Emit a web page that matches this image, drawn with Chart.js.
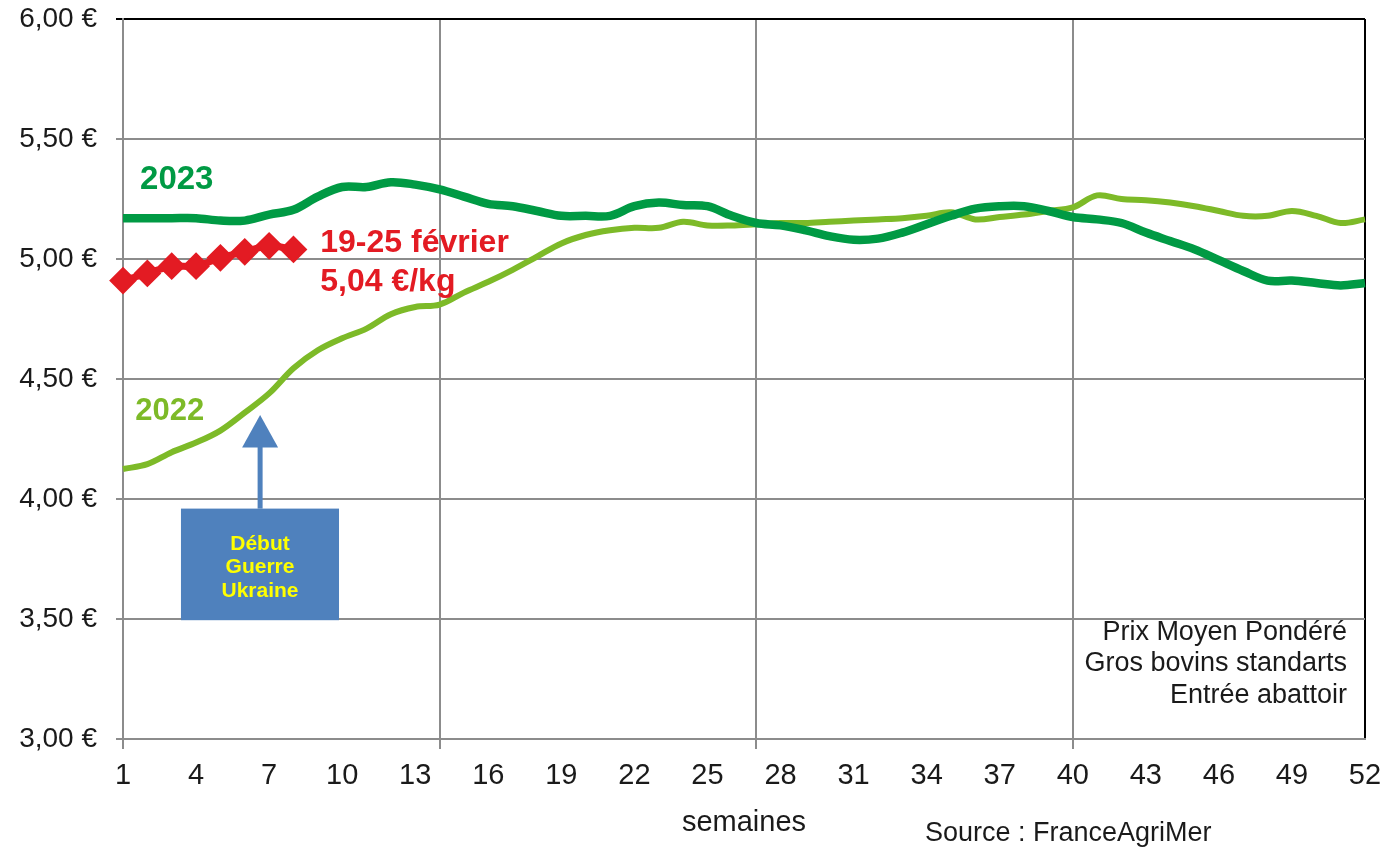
<!DOCTYPE html>
<html>
<head>
<meta charset="utf-8">
<script src="https://cdn.jsdelivr.net/npm/chart.js@4.4.0/dist/chart.umd.min.js"></script>
<style>
  html, body { margin: 0; padding: 0; background: #fff; }
</style>
</head>
<body>
<canvas id="prixChart" width="1384" height="849"></canvas>
<script>
const weeks = [1, 2, 3, 4, 5, 6, 7, 8, 9, 10, 11, 12, 13, 14, 15, 16, 17, 18, 19, 20,
  21, 22, 23, 24, 25, 26, 27, 28, 29, 30, 31, 32, 33, 34, 35, 36, 37, 38, 39, 40,
  41, 42, 43, 44, 45, 46, 47, 48, 49, 50, 51, 52];

const prix2022 = [4.125, 4.145, 4.195, 4.235, 4.285, 4.36, 4.44, 4.545, 4.62, 4.67,
  4.71, 4.77, 4.80, 4.81, 4.86, 4.905, 4.955, 5.01, 5.065, 5.10,
  5.12, 5.13, 5.13, 5.155, 5.14, 5.14, 5.145, 5.15, 5.15, 5.155,
  5.16, 5.165, 5.17, 5.18, 5.195, 5.165, 5.175, 5.185, 5.20, 5.215,
  5.265, 5.25, 5.245, 5.235, 5.22, 5.20, 5.18, 5.18, 5.20, 5.18,
  5.15, 5.165];

const prix2023 = [5.17, 5.17, 5.17, 5.17, 5.16, 5.16, 5.185, 5.205, 5.26, 5.30,
  5.30, 5.32, 5.31, 5.29, 5.26, 5.23, 5.22, 5.20, 5.18, 5.18,
  5.18, 5.22, 5.235, 5.225, 5.22, 5.18, 5.15, 5.14, 5.12, 5.095,
  5.08, 5.085, 5.11, 5.145, 5.18, 5.21, 5.22, 5.22, 5.20, 5.175,
  5.165, 5.15, 5.11, 5.075, 5.04, 4.995, 4.95, 4.91, 4.91, 4.90,
  4.89, 4.90];

const prix2024 = [4.91, 4.94, 4.97, 4.97, 5.005, 5.03, 5.055, 5.04];

const yTicks = [3, 3.5, 4, 4.5, 5, 5.5, 6];

const GRIS = "#8c8c8c";
const VERT_FONCE = "#009a44";
const VERT_CLAIR = "#7dba28";
const ROUGE = "#e31b23";
const POLICE = "'Liberation Sans', Arial, sans-serif";

// textes et fleche par-dessus le graphique
const annotations = {
  id: "annotations",
  afterDatasetsDraw(chart) {
    const ctx = chart.ctx;
    const x = chart.scales.x;
    const y = chart.scales.y;
    const px = (w) => x.getPixelForValue(w - 1);
    const py = (v) => y.getPixelForValue(v);

    ctx.save();
    ctx.textBaseline = "middle";

    ctx.font = "bold 33px " + POLICE;
    ctx.fillStyle = VERT_FONCE;
    ctx.textAlign = "left";
    ctx.fillText("2023", px(1.7), py(5.33));

    ctx.font = "bold 31px " + POLICE;
    ctx.fillStyle = VERT_CLAIR;
    ctx.fillText("2022", px(1.5), py(4.365));

    ctx.font = "bold 32px " + POLICE;
    ctx.fillStyle = ROUGE;
    ctx.fillText("19-25 février", px(9.1), py(5.065));
    ctx.fillText("5,04 €/kg", px(9.1), py(4.905));

    // fleche bleue
    const ax = px(6.63);
    ctx.fillStyle = "#4f81bd";
    ctx.fillRect(ax - 2.5, py(4.22), 5, py(3.96) - py(4.22));
    ctx.beginPath();
    ctx.moveTo(ax, py(4.35));
    ctx.lineTo(ax + 18, py(4.215));
    ctx.lineTo(ax - 18, py(4.215));
    ctx.closePath();
    ctx.fill();

    // encadre
    const bx0 = px(3.38), bx1 = px(9.87);
    const by0 = py(3.96), by1 = py(3.495);
    ctx.fillRect(bx0, by0, bx1 - bx0, by1 - by0);
    ctx.font = "bold 21px " + POLICE;
    ctx.fillStyle = "#ffff00";
    ctx.textAlign = "center";
    const cx = (bx0 + bx1) / 2;
    ctx.fillText("Début", cx, by0 + 36);
    ctx.fillText("Guerre", cx, by0 + 59);
    ctx.fillText("Ukraine", cx, by0 + 83);

    // legende du prix
    ctx.font = "27px " + POLICE;
    ctx.fillStyle = "#1a1a1a";
    ctx.textAlign = "right";
    const rx = x.right - 18;
    ctx.fillText("Prix Moyen Pondéré", rx, py(3.445));
    ctx.fillText("Gros bovins standarts", rx, py(3.315));
    ctx.fillText("Entrée abattoir", rx, py(3.18));

    ctx.textAlign = "left";
    ctx.fillText("Source : FranceAgriMer", 925, 834);
    ctx.restore();
  },
};

function initChart() {
  const ctx = document.getElementById("prixChart").getContext("2d");
  new Chart(ctx, {
    type: "line",
    data: {
      labels: weeks,
      datasets: [
        {
          label: "2024",
          data: prix2024,
          borderColor: ROUGE,
          backgroundColor: ROUGE,
          borderWidth: 7,
          tension: 0.3,
          pointStyle: "rectRot",
          pointRadius: 12.5,
          pointBorderWidth: 2,
          pointBorderColor: ROUGE,
          clip: false,
        },
        {
          label: "2023",
          data: prix2023,
          borderColor: VERT_FONCE,
          borderWidth: 8.5,
          tension: 0.35,
          pointRadius: 0,
          clip: false,
        },
        {
          label: "2022",
          data: prix2022,
          borderColor: VERT_CLAIR,
          borderWidth: 6,
          tension: 0.35,
          pointRadius: 0,
          clip: false,
        },
      ],
    },
    options: {
      responsive: false,
      animation: false,
      layout: {
        padding: { top: 19, right: 19, left: 0, bottom: 0 },
      },
      scales: {
        x: {
          type: "category",
          offset: false,
          afterFit: (scale) => {
            scale.height = 110;
            scale.paddingLeft = 0;
            scale.paddingRight = 0;
          },
          border: { color: GRIS, width: 2 },
          grid: {
            lineWidth: 2,
            tickLength: 10,
            color: (c) => (c.index === 51 ? "#000" : c.index % 13 === 0 ? GRIS : "rgba(0,0,0,0)"),
            tickColor: (c) => (c.index % 13 === 0 && c.index < 51 ? GRIS : "rgba(0,0,0,0)"),
          },
          ticks: {
            autoSkip: false,
            maxRotation: 0,
            padding: 10,
            color: "#1a1a1a",
            font: { family: POLICE, size: 29 },
            callback: (val, i) => (i % 3 === 0 ? weeks[i] : ""),
          },
          title: {
            display: true,
            text: "semaines",
            color: "#1a1a1a",
            font: { family: POLICE, size: 29 },
            padding: { top: 0, bottom: 9 },
          },
        },
        y: {
          min: 3,
          max: 6,
          afterFit: (scale) => {
            scale.width = 123;
            scale.paddingTop = 0;
            scale.paddingBottom = 0;
          },
          afterBuildTicks: (scale) => { scale.ticks = yTicks.map((v) => ({ value: v })); },
          border: { color: GRIS, width: 2 },
          grid: {
            lineWidth: 2,
            tickLength: 7,
            color: (c) => (c.tick && c.tick.value === 6 ? "#000" : GRIS),
            tickColor: (c) => (c.tick && c.tick.value === 6 ? "#000" : GRIS),
          },
          ticks: {
            padding: 19,
            color: "#1a1a1a",
            font: { family: POLICE, size: 28 },
            callback: (v) => v.toFixed(2).replace(".", ",") + " €",
          },
        },
      },
      plugins: {
        legend: { display: false },
        tooltip: { enabled: false },
      },
    },
    plugins: [annotations],
  });
}

window.onload = () => {
  initChart();
};
</script>
</body>
</html>
